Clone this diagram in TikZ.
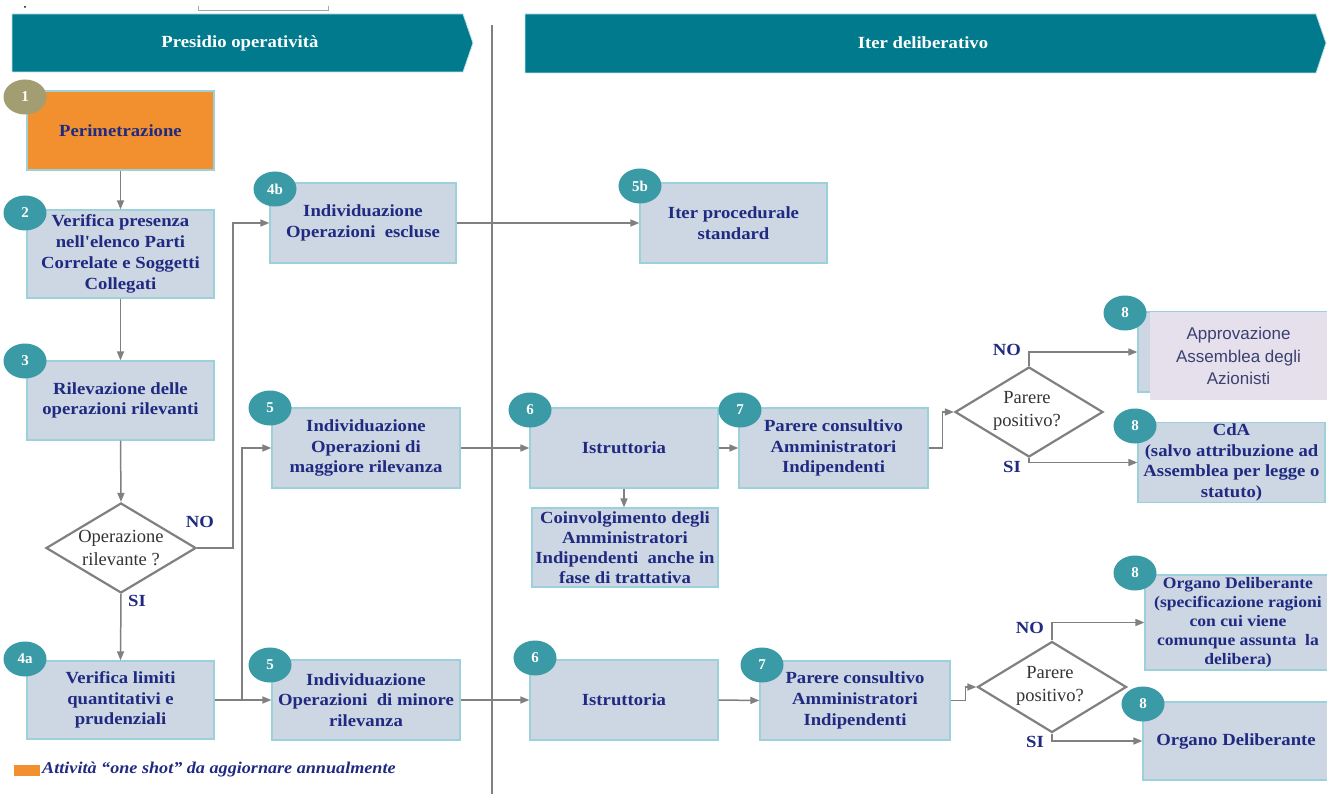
\documentclass[tikz,border=0pt]{standalone}
\usepackage{fontspec}
\setmainfont{Liberation Serif}
\newfontfamily\boxf{Liberation Serif}[FakeStretch=1.1]
\newfontfamily\arialf{Liberation Sans}
\usetikzlibrary{shapes.geometric,arrows.meta}
\definecolor{hdr}{HTML}{007A8C}
\definecolor{boxfill}{HTML}{CDD6E3}
\definecolor{boxline}{HTML}{9CD1D9}
\definecolor{txt}{HTML}{1F2A80}
\definecolor{badgec}{HTML}{3A9AA6}
\definecolor{badgeo}{HTML}{A39E72}
\definecolor{orangef}{HTML}{F29030}
\definecolor{conn}{HTML}{808080}
\definecolor{lav}{HTML}{E6E0EC}
\definecolor{apptxt}{HTML}{3A4070}
\tikzset{
  x=1pt,y=-1pt,
  box/.style={draw=boxline, line width=1.2pt, fill=boxfill, text=txt,
    font=\boxf\fontsize{17}{20.8}\selectfont\bfseries, align=center, inner sep=1pt},
  badge/.style={ellipse, fill=badgec, text=white, minimum width=43pt, minimum height=35pt,
    inner sep=0pt, font=\fontsize{15}{15}\selectfont\bfseries},
  diam/.style={diamond, draw=conn, line width=2.2pt, fill=white, inner sep=0pt},
  dtext/.style={font=\fontsize{18.5}{23.5}\selectfont, text=black!80, align=center},
  conn/.style={draw=conn, line width=1.5pt, -{Triangle[length=9pt,width=7pt]}},
  lbl/.style={font=\boxf\fontsize{17}{17}\selectfont\bfseries, text=txt},
  header/.style={fill=hdr, draw=boxline!60, line width=0.8pt},
  htext/.style={text=white, font=\boxf\fontsize{17}{17}\selectfont\bfseries}
}
\begin{document}
\begin{tikzpicture}
\useasboundingbox (0,0) rectangle (1327,794);
% top artifacts
\fill[black] (25,7) circle (1);
\draw[conn!70, line width=0.8pt, -] (198,6) -- (198,10) -- (328,10) -- (328,6);
% headers
\path[header] (12,14) -- (463,14) -- (473,43) -- (463,72) -- (12,72) -- cycle;
\node[htext] (h1) at (240,43) {Presidio operatività};
\path[header] (525,14) -- (1316,14) -- (1326,43) -- (1316,73) -- (525,73) -- cycle;
\node[htext] (h2) at (923,43) {Iter deliberativo};
% divider
\draw[conn, -, line width=2.5pt] (492,25) -- (492,794);

% left column
\node[box, fill=orangef, draw=boxline, minimum width=187pt, minimum height=79pt] (b1) at (120.5,130.5) {Perimetrazione};
\node[box, minimum width=187pt, minimum height=88pt] (b2) at (120.5,254) {Verifica presenza\\nell'elenco Parti\\Correlate e Soggetti\\Collegati};
\node[box, minimum width=187pt, minimum height=79pt] (b3) at (120.5,400.5) {Rilevazione delle\\operazioni rilevanti};
\node[diam, minimum width=150pt, minimum height=90pt] (d1) at (121,548) {};
\node[dtext] (d1t) at (121,548) {Operazione\\rilevante ?};
\node[box, minimum width=187pt, minimum height=78pt] (b4a) at (120.5,700) {Verifica limiti\\quantitativi e\\prudenziali};

% second column
\node[box, minimum width=186pt, minimum height=80pt] (b4b) at (363,223) {Individuazione\\Operazioni~ escluse};
\node[box, minimum width=188pt, minimum height=80pt] (b5a) at (366,448) {Individuazione\\Operazioni di\\maggiore rilevanza};
\node[box, minimum width=188pt, minimum height=80pt] (b5c) at (366,700) {Individuazione\\Operazioni~ di minore\\rilevanza};

% iter deliberativo
\node[box, minimum width=187pt, minimum height=80pt] (b5b) at (733.5,223) {Iter procedurale\\standard};
\node[box, minimum width=188pt, minimum height=80pt] (b6a) at (624,448) {Istruttoria};
\node[box, minimum width=186pt, minimum height=79pt, font=\boxf\fontsize{17}{20}\selectfont\bfseries] (bco) at (625,547.5) {Coinvolgimento degli\\Amministratori\\Indipendenti~ anche in\\fase di trattativa};
\node[box, minimum width=189pt, minimum height=80pt] (b7a) at (833.5,448) {Parere consultivo\\Amministratori\\Indipendenti};
\node[diam, minimum width=148pt, minimum height=90pt] (d2) at (1029,412) {};
\node[dtext] (d2t) at (1027,411) {Parere\\positivo?};
\node[box, minimum width=189pt, minimum height=80pt] (b8h) at (1232.5,352) {};
\node[box, draw=none, fill=lav, minimum width=177pt, minimum height=88pt, font=\arialf\fontsize{17}{22.5}\selectfont, text=apptxt] (b8a) at (1238.5,356) {Approvazione\\Assemblea degli\\Azionisti};
\node[box, minimum width=187pt, minimum height=79pt] (b8b) at (1231.5,462.5) {CdA\\(salvo attribuzione ad\\Assemblea per legge o\\statuto)};

\node[box, minimum width=188pt, minimum height=80pt] (b6b) at (624,700) {Istruttoria};
\node[box, minimum width=190pt, minimum height=79pt] (b7b) at (855,700.5) {Parere consultivo\\Amministratori\\Indipendenti};
\node[diam, minimum width=149pt, minimum height=91pt] (d3) at (1052,687) {};
\node[dtext] (d3t) at (1050,686) {Parere\\positivo?};
\node[box, minimum width=186pt, minimum height=95pt, font=\boxf\fontsize{16}{19}\selectfont\bfseries] (b8c) at (1238,622.5) {Organo Deliberante\\(specificazione ragioni\\con cui viene\\comunque assunta~ la\\delibera)};
\node[box, minimum width=186pt, minimum height=78pt] (b8d) at (1236,741) {Organo Deliberante};

% badges
\node[badge, fill=badgeo] (n1) at (25,97) {1};
\node[badge] (n2) at (25,213) {2};
\node[badge] (n3) at (25,361) {3};
\node[badge] (n4a) at (25,659) {4a};
\node[badge] (n4b) at (275,189) {4b};
\node[badge] (n5a) at (270,408) {5};
\node[badge] (n5c) at (270,665) {5};
\node[badge] (n5b) at (640,186) {5b};
\node[badge] (n6a) at (530,410) {6};
\node[badge] (n7a) at (740,410) {7};
\node[badge] (n8a) at (1125,313) {8};
\node[badge] (n8b) at (1135,426) {8};
\node[badge] (n6b) at (535,658) {6};
\node[badge] (n7b) at (762,665) {7};
\node[badge] (n8c) at (1135,573) {8};
\node[badge] (n8d) at (1143,704) {8};

% connectors
\draw[conn] (b1.south) -- (b2.north);
\draw[conn] (b2.south) -- (b3.north);
\draw[conn] (b3.south) -- (d1.north);
\draw[conn] (d1.south) -- (b4a.north);
\draw[conn] (d1.east) -- ++(36,0) |- (b4b.west);
\draw[conn] (b4a.east) -- (b5c.west);
\coordinate (j2) at (242,700);
\draw[conn] (j2) |- (b5a.west);
\draw[conn] (b4b.east) -- (b5b.west);
\draw[conn] (b5a.east) -- (b6a.west);
\draw[conn] (b6a.east) -- (b7a.west);
\draw[conn] (b6a.south) -- (b6a.south |- bco.north);
\draw[conn] (b7a.east) -- ++(14,0) |- (d2.west);
\draw[conn] (d2.north) |- (b8h.west);
\draw[conn] (d2.south) |- (b8b.west);
\draw[conn] (b5c.east) -- (b6b.west);
\draw[conn] (b6b.east) -- (b7b.west);
\draw[conn] (b7b.east) -- ++(15,0) |- (d3.west);
\draw[conn] (d3.north) |- (b8c.west);
\draw[conn] (d3.south) |- (b8d.west);

% labels
\node[lbl] (l1) at (200,522) {NO};
\node[lbl] (l2) at (137,601) {SI};
\node[lbl] (l3) at (1007,350) {NO};
\node[lbl] (l4) at (1012,467) {SI};
\node[lbl] (l5) at (1030,628) {NO};
\node[lbl] (l6) at (1035,742) {SI};

% legend
\fill[orangef] (14,765) rectangle (40,776);
\node[anchor=west, text=txt, font=\boxf\fontsize{16.5}{16.5}\selectfont\bfseries\itshape, inner sep=0pt] (leg) at (42,770) {Attività “one shot” da aggiornare annualmente};
\end{tikzpicture}
\end{document}
